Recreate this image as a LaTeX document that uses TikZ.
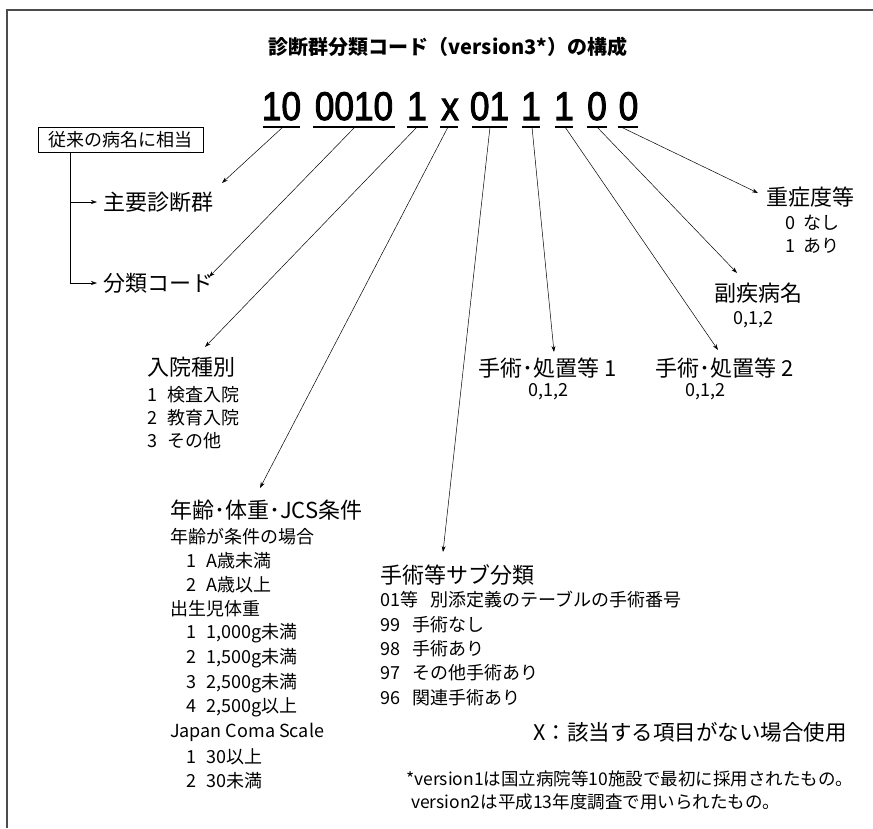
\documentclass[tikz,border=0pt]{standalone}
\usepackage{fontspec}
\setmainfont{Noto Sans CJK JP}
\newfontfamily\codefont[BoldFont={Liberation Sans},BoldFeatures={FakeBold=2.5}]{Liberation Sans}
\usetikzlibrary{arrows.meta}
\tikzset{
  lbl/.style={inner sep=0pt, anchor=west},
  head/.style={lbl, font=\fontsize{22}{26}\selectfont},
  item/.style={lbl, font=\fontsize{18}{22}\selectfont},
  arr/.style={-{Stealth[length=6pt,width=4pt]}, line width=0.5pt},
  codeg/.style={inner sep=0pt, font=\codefont\bfseries\fontsize{40}{44}\selectfont, xscale=0.88},
  uline/.style={line width=1.3pt},
  frame/.style={line width=1.5pt, black!70},
}
\newcommand{\nb}[2]{\makebox[#1][l]{#2}}
\begin{document}
\begin{tikzpicture}[x=1pt,y=-1pt]
\useasboundingbox (0,0) rectangle (873,828);
\draw[frame] (7,828) -- (7,10) -- (873,10);

% title
\node[inner sep=0pt, font=\bfseries\fontsize{20}{24}\selectfont] (title) at (448,47) {診断群分類コード（version3*）の構成};

% code groups
\node[codeg, anchor=base] (g1) at (281.5,120) {10};
\node[codeg, anchor=base] (g2) at (354,120) {0010};
\node[codeg, anchor=base] (g3) at (417,120) {1};
\node[codeg, anchor=base] (g4) at (450,120) {x};
\node[codeg, anchor=base] (g5) at (489.5,120) {01};
\node[codeg, anchor=base] (g6) at (531,120) {1};
\node[codeg, anchor=base] (g7) at (564,120) {1};
\node[codeg, anchor=base] (g8) at (597,120) {0};
\node[codeg, anchor=base] (g9) at (628.5,120) {0};

% underlines
\draw[uline] (263,127) -- (300,127);
\draw[uline] (313,127) -- (395,127);
\draw[uline] (407,127) -- (428,127);
\draw[uline] (440,127) -- (458,127);
\draw[uline] (472,127) -- (507,127);
\draw[uline] (522,127) -- (540,127);
\draw[uline] (555,127) -- (573,127);
\draw[uline] (587,127) -- (607,127);
\draw[uline] (618,127) -- (638,127);

\coordinate (u1) at (283,127);
\coordinate (u2) at (355,127);
\coordinate (u3) at (417,127);
\coordinate (u4) at (448,127);
\coordinate (u5) at (490,127);
\coordinate (u6) at (532,127);
\coordinate (u7) at (565,127);
\coordinate (u8) at (597,127);
\coordinate (u9) at (621,127);

\coordinate (t1) at (222,183);
\coordinate (t2) at (209,277);
\coordinate (t3) at (205,347);
\coordinate (t4) at (260,488);
\coordinate (t5) at (443,552);
\coordinate (t6) at (554,352);
\coordinate (t7) at (718,350);
\coordinate (t8) at (737,273);
\coordinate (t9) at (758,193);

% left box and branches
\node[draw, line width=0.6pt, inner sep=0pt, minimum width=165pt, minimum height=25pt,
      font=\fontsize{18}{22}\selectfont] (box) at (120.5,139.5) {従来の病名に相当};
\node[head] (mdc) at (103,202) {主要診断群};
\node[head] (cls) at (103,283) {分類コード};
\coordinate (bj) at (70,152);
\draw[arr] (bj) |- ([xshift=-6pt]mdc.west);
\draw[arr] (bj) |- ([xshift=-6pt]cls.west);

% 入院種別
\node[head] (nyu) at (147,367) {入院種別};
\node[item] (nyu1) at (147,395) {\nb{20pt}{1}検査入院};
\node[item] (nyu2) at (147,418) {\nb{20pt}{2}教育入院};
\node[item] (nyu3) at (147,441) {\nb{20pt}{3}その他};

% 年齢・体重・JCS条件
\node[head] (age) at (170,510) {年齢･体重･JCS条件};
\node[item] (a1) at (170,537) {年齢が条件の場合};
\node[item] (a2) at (186,561) {\nb{20pt}{1}A歳未満};
\node[item] (a3) at (186,585) {\nb{20pt}{2}A歳以上};
\node[item] (a4) at (170,609) {出生児体重};
\node[item] (a5) at (186,633) {\nb{20pt}{1}1,000g未満};
\node[item] (a6) at (186,658) {\nb{20pt}{2}1,500g未満};
\node[item] (a7) at (186,683) {\nb{20pt}{3}2,500g未満};
\node[item] (a8) at (186,707) {\nb{20pt}{4}2,500g以上};
\node[item] (a9) at (170,732) {Japan Coma Scale};
\node[item] (a10) at (186,757) {\nb{20pt}{1}30以上};
\node[item] (a11) at (186,781) {\nb{20pt}{2}30未満};

% 手術等サブ分類
\node[head] (sub) at (380,575) {手術等サブ分類};
\node[item] (s1) at (380,600) {\nb{50pt}{01等}別添定義のテーブルの手術番号};
\node[item] (s2) at (380,625) {\nb{32pt}{99}手術なし};
\node[item] (s3) at (380,649) {\nb{32pt}{98}手術あり};
\node[item] (s4) at (380,673) {\nb{32pt}{97}その他手術あり};
\node[item] (s5) at (380,698) {\nb{32pt}{96}関連手術あり};

% right side
\node[head] (jus) at (766,197) {重症度等};
\node[item] (j1) at (785,223) {\nb{18pt}{0}なし};
\node[item] (j2) at (785,246) {\nb{18pt}{1}あり};

\node[head] (fuk) at (714,293) {副疾病名};
\node[item, anchor=center] (f1) at (753,320) {0,1,2};

\node[head] (op1) at (478,368) {手術･処置等 1};
\node[item, anchor=center] (o1) at (548,392) {0,1,2};
\node[head] (op2) at (655,368) {手術･処置等 2};
\node[item, anchor=center] (o2) at (705,392) {0,1,2};

% notes
\node[lbl, font=\fontsize{21.5}{26}\selectfont] (xnote) at (533,732) {X：該当する項目がない場合使用};
\node[lbl, font=\fontsize{17.5}{22}\selectfont] (fn1) at (406,779) {*version1は国立病院等10施設で最初に採用されたもの。};
\node[lbl, font=\fontsize{17.5}{22}\selectfont] (fn2) at (411,802) {version2は平成13年度調査で用いられたもの。};

% connectors
\draw[arr] (u1) -- (t1);
\draw[arr] (u2) -- (t2);
\draw[arr] (u3) -- (t3);
\draw[arr] (u4) -- (t4);
\draw[arr] (u5) -- (t5);
\draw[arr] (u6) -- (t6);
\draw[arr] (u7) -- (t7);
\draw[arr] (u8) -- (t8);
\draw[arr] (u9) -- (t9);
\end{tikzpicture}
\end{document}
